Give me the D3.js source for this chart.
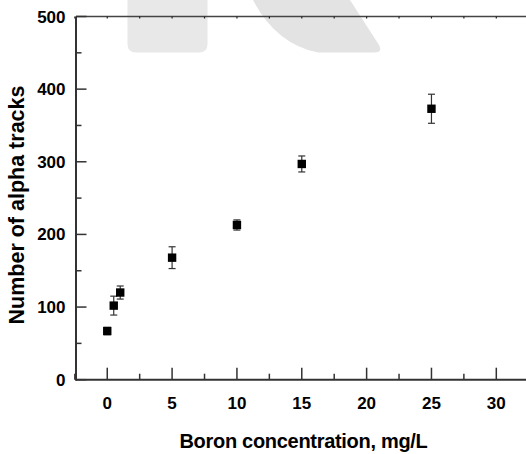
<!DOCTYPE html>
<html>
<head>
<meta charset="utf-8">
<script src="https://cdn.jsdelivr.net/npm/d3@7"></script>
<style>
  html, body { margin: 0; padding: 0; background: #fff; }
  svg { display: block; font-family: "Liberation Sans", Arial, sans-serif; font-weight: bold; }
</style>
</head>
<body>
<div id="chart"></div>
<script>
// Boron concentration (mg/L) vs number of alpha tracks
const concentration = [0, 0.5, 1, 5, 10, 15, 25];
const tracks = [67, 102, 120, 168, 213, 297, 373];
const trackErr = [5, 13, 9, 15, 7, 11, 20];

const xMajor = [0, 5, 10, 15, 20, 25, 30];
const xMinor = [-2.5, 2.5, 7.5, 12.5, 17.5, 22.5, 27.5];
const yMajor = [0, 100, 200, 300, 400, 500];
const yMinor = [50, 150, 250, 350, 450];

const width = 526, height = 454;
const axisColor = '#333';

const svg = d3.select('#chart').append('svg')
  .attr('width', width)
  .attr('height', height);

// faint background watermark shapes
svg.append('path')
  .attr('d', 'M127.5,0 L207.5,0 L207.5,44 Q207.5,52.5 199,52.5 L136,52.5 Q127.5,52.5 127.5,44 Z')
  .attr('fill', '#e8e8e8');
svg.append('path')
  .attr('d', 'M253,0 L350,0 L379,45 Q383,52.5 374,52.5 L318,52.5 Q276,44 253,0 Z')
  .attr('fill', '#e3e3e3');

const x = d3.scaleLinear().domain([-2.41, 32.29]).range([76, 526]);
const y = d3.scaleLinear().domain([0, 500]).range([379.7, 16.5]);

// bottom axis: major ticks pointing inward (up)
const xAxis = svg.append('g').attr('transform', `translate(0,${y(0)})`);
xAxis.append('line')
  .attr('x1', x.range()[0]).attr('x2', x.range()[1])
  .attr('stroke', axisColor).attr('stroke-width', 2);
xAxis.selectAll('line.major').data(xMajor).join('line')
  .attr('class', 'major')
  .attr('x1', d => x(d)).attr('x2', d => x(d))
  .attr('y1', 0).attr('y2', -12)
  .attr('stroke', axisColor).attr('stroke-width', 1.5);
xAxis.selectAll('line.minor').data(xMinor).join('line')
  .attr('class', 'minor')
  .attr('x1', d => x(d)).attr('x2', d => x(d))
  .attr('y1', 0).attr('y2', -6)
  .attr('stroke', axisColor).attr('stroke-width', 1.5);
xAxis.selectAll('text').data(xMajor).join('text')
  .attr('x', d => x(d))
  .attr('y', 29)
  .attr('text-anchor', 'middle')
  .attr('font-size', 17)
  .attr('fill', '#000')
  .text(d => d);

// top frame line with tiny ticks
const topG = svg.append('g').attr('transform', `translate(0,${y(500)})`);
topG.append('line')
  .attr('x1', x.range()[0]).attr('x2', x.range()[1])
  .attr('stroke', '#444').attr('stroke-width', 1.6);
topG.selectAll('line.tk').data(xMajor.concat(xMinor)).join('line')
  .attr('class', 'tk')
  .attr('x1', d => x(d)).attr('x2', d => x(d))
  .attr('y1', 0).attr('y2', 2)
  .attr('stroke', '#222').attr('stroke-width', 1.2);

// left axis: ticks pointing inward (right)
const yAxis = svg.append('g').attr('transform', `translate(${x.range()[0]},0)`);
yAxis.append('line')
  .attr('y1', y(0) + 1).attr('y2', y(500))
  .attr('stroke', axisColor).attr('stroke-width', 2);
yAxis.selectAll('line.major').data(yMajor).join('line')
  .attr('class', 'major')
  .attr('x1', 0).attr('x2', 10.5)
  .attr('y1', d => y(d)).attr('y2', d => y(d))
  .attr('stroke', axisColor).attr('stroke-width', 1.5);
yAxis.selectAll('line.minor').data(yMinor).join('line')
  .attr('class', 'minor')
  .attr('x1', 0).attr('x2', 5.5)
  .attr('y1', d => y(d)).attr('y2', d => y(d))
  .attr('stroke', axisColor).attr('stroke-width', 1.5);
yAxis.selectAll('text').data(yMajor).join('text')
  .attr('x', -10.5)
  .attr('y', d => y(d) + 6)
  .attr('text-anchor', 'end')
  .attr('font-size', 17)
  .attr('fill', '#000')
  .text(d => d);

// axis titles
svg.append('text')
  .attr('x', 303.5)
  .attr('y', 448)
  .attr('text-anchor', 'middle')
  .attr('font-size', 20)
  .attr('letter-spacing', -0.3)
  .attr('fill', '#000')
  .text('Boron concentration, mg/L');

svg.append('text')
  .attr('transform', 'translate(23.5,205) rotate(-90)')
  .attr('text-anchor', 'middle')
  .attr('font-size', 21.5)
  .attr('fill', '#000')
  .text('Number of alpha tracks');

// data with error bars
const pts = concentration.map((c, i) => ({ c, v: tracks[i], e: trackErr[i] }));
const eb = svg.append('g').attr('stroke', '#333').attr('stroke-width', 1.2).attr('fill', 'none');
eb.selectAll('line.v').data(pts).join('line')
  .attr('class', 'v')
  .attr('x1', d => x(d.c)).attr('x2', d => x(d.c))
  .attr('y1', d => y(d.v + d.e)).attr('y2', d => y(d.v - d.e));
eb.selectAll('line.top').data(pts).join('line')
  .attr('class', 'top')
  .attr('x1', d => x(d.c) - 3.5).attr('x2', d => x(d.c) + 3.5)
  .attr('y1', d => y(d.v + d.e)).attr('y2', d => y(d.v + d.e));
eb.selectAll('line.bot').data(pts).join('line')
  .attr('class', 'bot')
  .attr('x1', d => x(d.c) - 3.5).attr('x2', d => x(d.c) + 3.5)
  .attr('y1', d => y(d.v - d.e)).attr('y2', d => y(d.v - d.e));

svg.append('g').selectAll('rect').data(pts).join('rect')
  .attr('x', d => x(d.c) - 4.2)
  .attr('y', d => y(d.v) - 4.2)
  .attr('width', 8.4)
  .attr('height', 8.4)
  .attr('fill', '#000');
</script>
</body>
</html>
